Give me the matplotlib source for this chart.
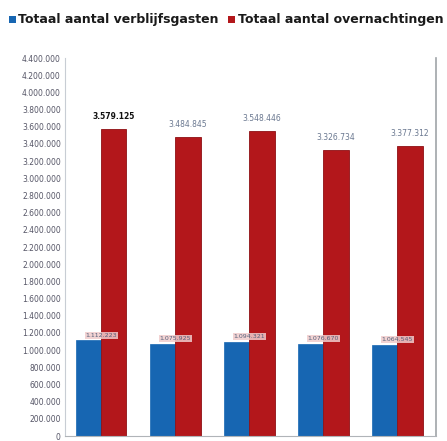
import matplotlib
matplotlib.use("Agg")
import matplotlib.pyplot as plt
from matplotlib.patches import Rectangle
import numpy as np

years = ["2012", "2013", "2014", "2015", "2016"]
verblijfsgasten = [1112223, 1075925, 1094321, 1076670, 1064545]
overnachtingen = [3579125, 3484845, 3548446, 3326734, 3377312]
gasten_labels = ["1.112.223", "1.075.925", "1.094.321", "1.076.670", "1.064.545"]
nacht_labels = ["3.579.125", "3.484.845", "3.548.446", "3.326.734", "3.377.312"]
yticks = list(range(0, 4400001, 200000))

blue = "#1766b2"
red = "#b3171b"

fig = plt.figure(figsize=(4.47, 4.41), dpi=100)
ax = fig.add_axes([65/447, 5/441, 371/447, 378/441])

x = np.arange(len(years))
w = 0.34
ax.bar(x - w/2, verblijfsgasten, width=w, color=blue, edgecolor=blue, linewidth=0.5)
ax.bar(x + w/2, overnachtingen, width=w, color=red, edgecolor="#8e1014", linewidth=0.6)

ax.set_xlim(-0.49, 4.52)
ax.set_ylim(0, 4400000)
ax.set_yticks(yticks)
def fmt(v):
    return "{:,}".format(v).replace(",", ".")
ax.set_yticklabels([fmt(v) for v in yticks], fontsize=5.5, color="#555566")
ax.tick_params(axis="y", length=0, pad=3)
ax.set_xticks([])
ax.spines["top"].set_visible(False)
ax.spines["left"].set_color("#c8cdd4")
ax.spines["right"].set_color("#a0a4a8")
ax.spines["right"].set_linewidth(1.2)
ax.spines["bottom"].set_color("#b0b4b8")

for i in range(len(years)):
    ax.text(x[i] + w/2, overnachtingen[i] + 90000, nacht_labels[i],
            ha="center", va="bottom", fontsize=5.5,
            color="#111111" if i == 0 else "#6a7890",
            fontweight="bold" if i == 0 else "normal")
    ax.text(x[i], verblijfsgasten[i] + 30000, gasten_labels[i],
            ha="center", va="bottom", fontsize=4.5, color="#55607a",
            bbox=dict(boxstyle="square,pad=0.15", fc="#f0cccc", ec="none", alpha=0.85))

# legend
fig.patches.append(Rectangle((9/447, 1 - 23/441), 7/447, 7/441, transform=fig.transFigure,
                             facecolor=blue, edgecolor="none"))
fig.text(18/447, 1 - 19/441, "Totaal aantal verblijfsgasten", fontsize=9,
         fontweight="bold", color="#1a1a1a", va="center", ha="left", family="DejaVu Sans")
fig.patches.append(Rectangle((228/447, 1 - 23/441), 7/447, 7/441, transform=fig.transFigure,
                             facecolor=red, edgecolor="none"))
fig.text(238/447, 1 - 19/441, "Totaal aantal overnachtingen", fontsize=9,
         fontweight="bold", color="#1a1a1a", va="center", ha="left", family="DejaVu Sans")

fig.savefig("out.png", dpi=100)
